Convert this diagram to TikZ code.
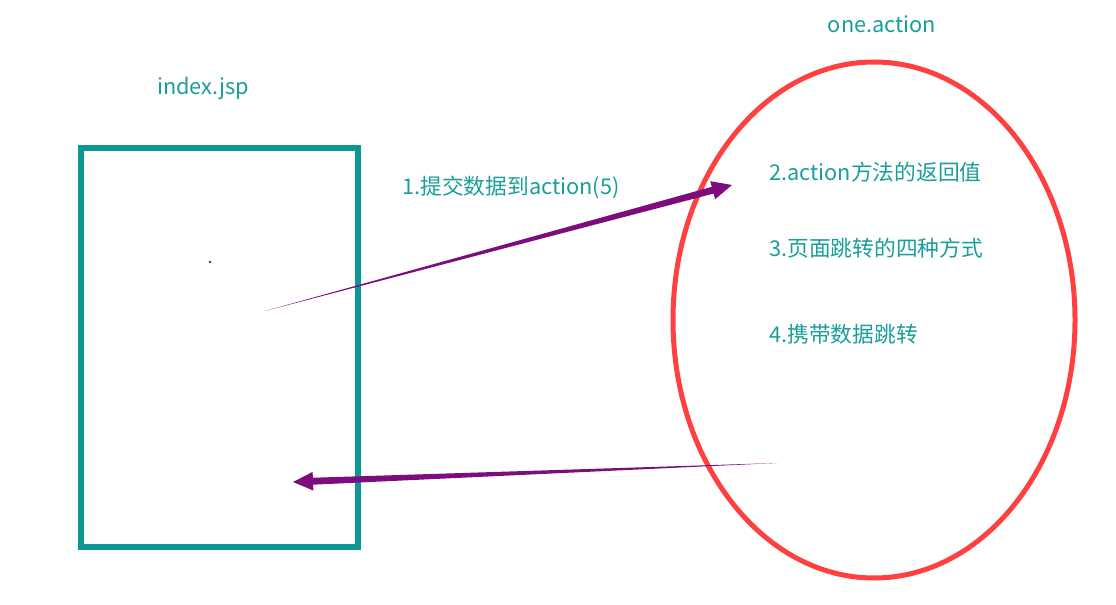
\documentclass[tikz,border=0pt]{standalone}
\usepackage{fontspec}
\setmainfont{Noto Sans CJK SC}
\usepackage{tikz}
\usetikzlibrary{calc, shapes.geometric}
\definecolor{BoxTeal}{HTML}{0E9690}
\definecolor{TextTeal}{HTML}{1A9E99}
\definecolor{ActRed}{HTML}{FF4040}
\definecolor{FlowPurple}{HTML}{7D0C7D}
% tapered arrow: #1 start, #2 tip
\newcommand{\taperarrow}[2]{%
  \coordinate (hb) at ($(#2)!15pt!(#1)$);
  \fill[FlowPurple] (#1) -- ($(hb)!2.6pt!90:(#2)$) -- ($(hb)!7pt!90:(#2)$)
    -- (#2) -- ($(hb)!7pt!-90:(#2)$) -- ($(hb)!2.6pt!-90:(#2)$) -- cycle;
}

\begin{document}
\begin{tikzpicture}[x=0.75pt, y=-0.75pt,
    label/.style={text=TextTeal, font=\fontsize{16.3pt}{18pt}\selectfont, inner sep=0pt}]
  \useasboundingbox (0,0) rectangle (1116,605);
  % Page and action
  \node[draw=BoxTeal, line width=4.5pt, minimum width=207.75pt, minimum height=299.25pt,
    inner sep=0pt] (page) at (219.5,347.5) {};
  \node[ellipse, draw=ActRed, line width=3.75pt, minimum width=301.5pt, minimum height=387pt,
    inner sep=0pt] (act) at (874,320) {};
  \fill (210,262) circle (0.9pt);
  % Titles
  \node[label] (pagename) at (203,88) {index.jsp};
  \node[label] (actname) at (882,24) {one.action};
  % Steps
  \node[label] (submit) at (511,187) {1.提交数据到action(5)};
  \node[label, anchor=west] (ret) at (769,172) {2.action方法的返回值};
  \node[label, anchor=west] (jump) at (769,248) {3.页面跳转的四种方式};
  \node[label, anchor=west] (carry) at (769,334) {4.携带数据跳转};
  % Flows
  \coordinate (reqstart) at (265,311);
  \coordinate (reqtip) at (732,185);
  \coordinate (respstart) at (777,463);
  \coordinate (resptip) at (293,482);
  \taperarrow{reqstart}{reqtip}
  \taperarrow{respstart}{resptip}
\end{tikzpicture}
\end{document}
